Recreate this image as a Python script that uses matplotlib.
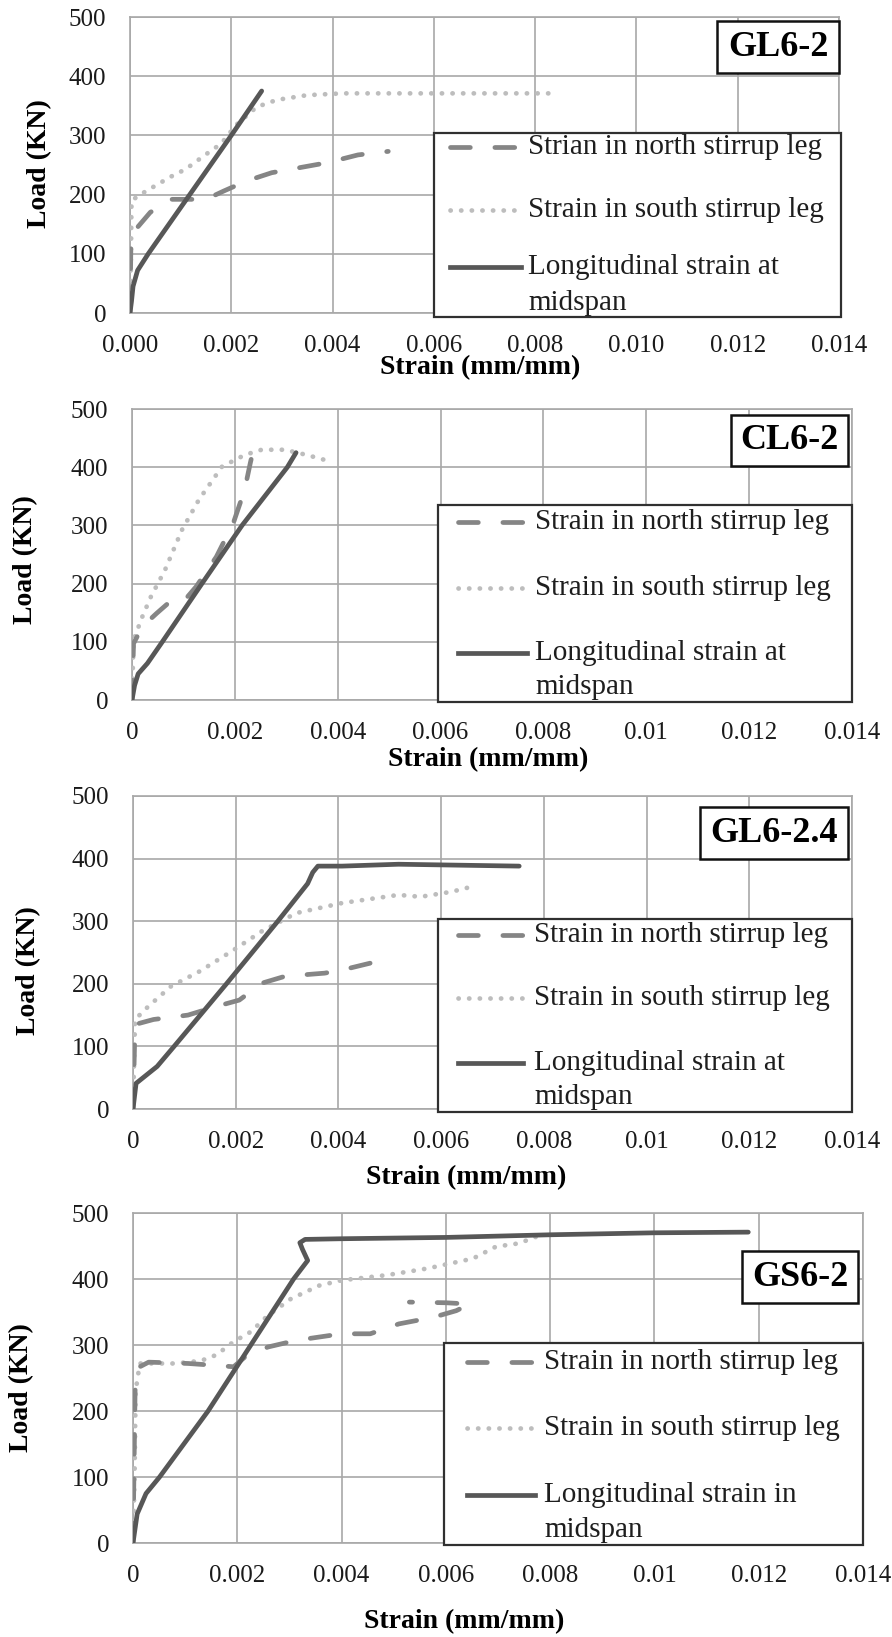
import matplotlib
matplotlib.use('Agg')
import matplotlib.pyplot as plt
from matplotlib.lines import Line2D
from matplotlib.patches import Rectangle
import numpy as np

plt.rcParams['font.family'] = ['Liberation Serif', 'DejaVu Serif']

# ---------------- data ----------------
x_ticks = [0, 0.002, 0.004, 0.006, 0.008, 0.010, 0.012, 0.014]
x_labels_fixed = ["0.000", "0.002", "0.004", "0.006", "0.008", "0.010", "0.012", "0.014"]
x_labels_general = ["0", "0.002", "0.004", "0.006", "0.008", "0.01", "0.012", "0.014"]
y_ticks = [0, 100, 200, 300, 400, 500]

titles = ["GL6-2", "CL6-2", "GL6-2.4", "GS6-2"]
north_labels = ["Strian in north stirrup leg", "Strain in north stirrup leg",
                "Strain in north stirrup leg", "Strain in north stirrup leg"]
south_label = "Strain in south stirrup leg"
long_labels = [("Longitudinal strain at", "midspan"), ("Longitudinal strain at", "midspan"),
               ("Longitudinal strain at", "midspan"), ("Longitudinal strain in", "midspan")]

# GL6-2
gl62_north_x = [0, 0.00002, 0.0001, 0.0004, 0.0008, 0.0015, 0.00185, 0.0023, 0.0028, 0.0039, 0.0045, 0.0051]
gl62_north_y = [0, 130, 140, 170, 192, 192, 206, 223, 237, 254, 267, 273]
gl62_south_x = [0, 0.00002, 0.00003, 0.0003, 0.0008, 0.0011, 0.0015, 0.0018, 0.0021, 0.0025, 0.0029, 0.0035, 0.0042, 0.0083]
gl62_south_y = [0, 100, 190, 205, 230, 243, 268, 286, 318, 348, 360, 368, 371, 371]
gl62_long_x = [0, 0.00003, 0.00006, 0.00015, 0.00036, 0.00118, 0.002, 0.0026]
gl62_long_y = [0, 20, 45, 72, 100, 200, 300, 375]

# CL6-2
cl62_north_x = [0, 0.00003, 0.0002, 0.00048, 0.0007, 0.00097, 0.00125, 0.00164, 0.00197, 0.00219, 0.0023, 0.00236]
cl62_north_y = [0, 97, 126, 149, 166, 166, 195, 246, 304, 361, 407, 430]
cl62_south_x = [0, 0.00003, 0.0002, 0.00037, 0.00064, 0.00097, 0.0013, 0.00175, 0.00219, 0.00252, 0.00297, 0.0034, 0.00385]
cl62_south_y = [0, 103, 143, 178, 223, 292, 344, 401, 421, 430, 430, 421, 410]
cl62_long_x = [0, 0.00005, 0.00012, 0.0003, 0.00059, 0.00136, 0.00214, 0.00302, 0.00319]
cl62_long_y = [0, 25, 45, 63, 100, 200, 300, 400, 425]

# GL6-2.4
gl624_north_x = [0, 0.00004, 0.0004, 0.00107, 0.00163, 0.00207, 0.00251, 0.00296, 0.00373, 0.00407, 0.00462]
gl624_north_y = [0, 135, 143, 150, 164, 174, 201, 212, 217, 222, 233]
gl624_south_x = [0, 0.00004, 0.0003, 0.00074, 0.0013, 0.00196, 0.00251, 0.00318, 0.00407, 0.00517, 0.0056, 0.0062, 0.00659]
gl624_south_y = [0, 143, 164, 196, 220, 254, 284, 313, 329, 342, 339, 347, 355]
gl624_long_x = [0, 0.00006, 0.00047, 0.0008, 0.00182, 0.00282, 0.0034, 0.0035, 0.0036, 0.00407, 0.00517, 0.00752]
gl624_long_y = [0, 41, 68, 100, 200, 300, 360, 378, 388, 388, 391, 388]

# GS6-2
gs62_north_x = [0, 0.00004, 0.00013, 0.0003, 0.00106, 0.0016, 0.00193, 0.00215, 0.00259, 0.00313, 0.004,
                0.00455, 0.0051, 0.00576, 0.0062, 0.00646, 0.006, 0.0053]
gs62_north_y = [0, 231, 267, 274, 272, 269, 267, 282, 297, 307, 317, 317, 332, 342, 352, 362, 364, 365]
gs62_south_x = [0, 0.00003, 0.00005, 0.00013, 0.0008, 0.0013, 0.0016, 0.00193, 0.00226, 0.00259, 0.00303,
                0.00357, 0.004, 0.00488, 0.00565, 0.00652, 0.00696, 0.0074, 0.0078]
gs62_south_y = [0, 100, 230, 272, 272, 276, 285, 305, 320, 345, 370, 390, 398, 406, 416, 431, 449, 454, 466]
gs62_long_x = [0, 0.00008, 0.00025, 0.00051, 0.00144, 0.00226, 0.00308, 0.00335, 0.00325, 0.0032, 0.0033,
               0.004, 0.006, 0.008, 0.010, 0.0118]
gs62_long_y = [0, 44, 75, 100, 200, 300, 400, 428, 445, 455, 460, 461, 463, 467, 470, 471]

series = [
    (gl62_north_x, gl62_north_y, gl62_south_x, gl62_south_y, gl62_long_x, gl62_long_y),
    (cl62_north_x, cl62_north_y, cl62_south_x, cl62_south_y, cl62_long_x, cl62_long_y),
    (gl624_north_x, gl624_north_y, gl624_south_x, gl624_south_y, gl624_long_x, gl624_long_y),
    (gs62_north_x, gs62_north_y, gs62_south_x, gs62_south_y, gs62_long_x, gs62_long_y),
]

# ---------------- layout (pixels in the 892x1637 figure) ----------------
W, H = 892, 1637
axes_px = [(130, 839, 17, 313), (132, 852, 409, 700), (133, 852, 796, 1109), (133, 863, 1213, 1543)]
legend_px = [
    dict(box=(434, 841, 133, 317), hx=(450, 521), tx=528, ys=(147, 210, 267, 303)),
    dict(box=(438, 852, 505, 702), hx=(458, 527), tx=535, ys=(522, 588, 653, 687)),
    dict(box=(438, 852, 919, 1112), hx=(458, 523), tx=534, ys=(935, 998, 1063, 1097)),
    dict(box=(444, 863, 1343, 1545), hx=(467, 535), tx=544, ys=(1362, 1428, 1495, 1530)),
]
title_px = [(717, 839, 21, 73), (731, 848, 415, 466), (700, 848, 807, 859), (742, 858, 1251, 1303)]
ylabel_px = [(40, 164), (26, 560), (29, 971), (22, 1388)]
xlabel_px = [(480, 368), (488, 760), (466, 1178), (464, 1622)]

C_SOLID = '#575757'
C_DASH = '#858585'
C_DOT = '#bdbdbd'
C_GRID = '#a8a8a8'
LW = 3.4
dash_style = dict(color=C_DASH, lw=LW, linestyle=(0, (4.2, 5.2)), dash_capstyle='round')
dot_style = dict(color=C_DOT, lw=LW, linestyle=(0, (0.05, 2.2)), dash_capstyle='round')
solid_style = dict(color=C_SOLID, lw=LW, solid_capstyle='round')


def fx(x):
    return x / W


def fy(y):
    return 1 - y / H


fig = plt.figure(figsize=(W / 100, H / 100), dpi=100)

for i in range(4):
    l, r, t, b = axes_px[i]
    ax = fig.add_axes([fx(l), fy(b), (r - l) / W, (b - t) / H])
    nx, ny, sx, sy, lx, ly = series[i]
    ax.plot(sx, sy, **dot_style, zorder=3)
    ax.plot(nx, ny, **dash_style, zorder=4)
    ax.plot(lx, ly, **solid_style, zorder=5)
    ax.set_xlim(0, 0.014)
    ax.set_ylim(0, 500)
    ax.set_xticks(x_ticks)
    ax.set_xticklabels(x_labels_fixed if i == 0 else x_labels_general)
    ax.set_yticks(y_ticks)
    ax.grid(True, color=C_GRID, lw=1.2)
    ax.set_axisbelow(True)
    for s in ax.spines.values():
        s.set_color(C_GRID)
        s.set_linewidth(1.2)
    ax.tick_params(axis='both', length=0, labelsize=18, colors='#1a1a1a')
    ax.tick_params(axis='x', pad=16)
    ax.tick_params(axis='y', pad=17)

    # legend (manual)
    lg = legend_px[i]
    bl, br, bt, bb = lg['box']
    fig.add_artist(Rectangle((fx(bl), fy(bb)), (br - bl) / W, (bb - bt) / H,
                             transform=fig.transFigure, facecolor='white',
                             edgecolor='#303030', lw=1.6, zorder=6))
    h1, h2 = lg['hx']
    y1, y2, y3, y4 = lg['ys']
    fig.add_artist(Line2D([fx(h1), fx(h2)], [fy(y1)] * 2, transform=fig.transFigure,
                          zorder=7, **dash_style))
    fig.add_artist(Line2D([fx(h1), fx(h2)], [fy(y2)] * 2, transform=fig.transFigure,
                          zorder=7, **dot_style))
    fig.add_artist(Line2D([fx(h1), fx(h2)], [fy(y3)] * 2, transform=fig.transFigure,
                          zorder=7, color=C_SOLID, lw=LW))
    tx = fx(lg['tx'])
    for yy, txt in zip((y1, y2, y3, y4), (north_labels[i], south_label) + long_labels[i]):
        fig.text(tx, fy(yy), txt, fontsize=21, va='center', ha='left', zorder=8, color='#1e1e1e')

    # title box
    tl, tr, tt, tb = title_px[i]
    fig.add_artist(Rectangle((fx(tl), fy(tb)), (tr - tl) / W, (tb - tt) / H,
                             transform=fig.transFigure, facecolor='white',
                             edgecolor='#111111', lw=1.8, zorder=6))
    fig.text(fx((tl + tr) / 2), fy((tt + tb) / 2), titles[i], fontsize=26,
             fontweight='bold', ha='center', va='center', zorder=8)

    # axis labels
    yx, yy = ylabel_px[i]
    fig.text(fx(yx), fy(yy), "Load (KN)", fontsize=20, fontweight='bold',
             rotation=90, ha='center', va='center')
    xx, xy = xlabel_px[i]
    fig.text(fx(xx), fy(xy), "Strain (mm/mm)", fontsize=20, fontweight='bold',
             ha='center', va='center')

fig.savefig('out.png', dpi=100, facecolor='white')
